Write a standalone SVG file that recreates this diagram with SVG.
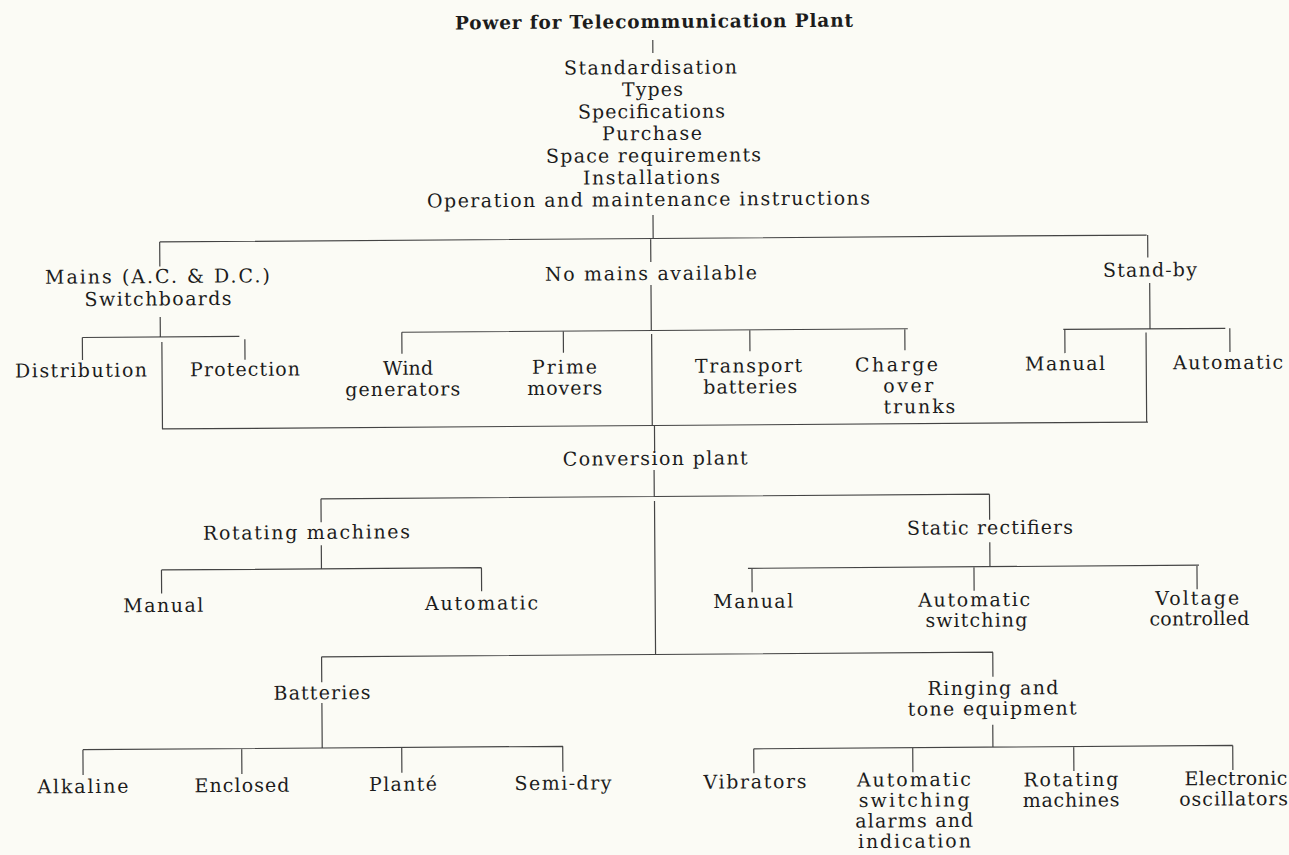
<svg xmlns="http://www.w3.org/2000/svg" width="1289" height="855" viewBox="0 0 1289 855">
<style>
.t{font-family:"DejaVu Serif","Liberation Serif",serif;font-size:19px;fill:#1c1c1c;text-anchor:middle}
.b{font-weight:bold;font-size:18.5px}
.c path{stroke:#444;stroke-width:1.2;fill:none}
</style>
<rect width="1289" height="855" fill="#fbfbf5"/>
<g transform="rotate(-0.4 654 430)">
<g class="c" id="connectors">
<path d="M655.5,40V53M654.5,215V238.5M161,238.5H1148M161,238.5V263M652,238.5V262M1149,238.5V261"/>
<path d="M161,313.5V333.5M83,333.5H240M83,333.5V356M245.5,336.5V357M162.5,338.5V425.5"/>
<path d="M652,285V330.5M402.5,330.5H908.5M402.5,330.5V352M564,330.5V352M750.5,330.5V352M905.5,330.5V352M652.3,334V425.5"/>
<path d="M1150.7,286.5V332.3M1064,332.3H1226M1065.5,332.3V356M1230.5,332.3V356M1146.7,336V425.5"/>
<path d="M162,425.5H1148"/>
<path d="M654.5,425.5V452M653.8,470V496.5M320.5,496.5H989M320.5,496.5V520M989,496.5V522M654,501V654.5"/>
<path d="M320.5,543V566.5M160.5,566.5H480.5M160.5,566.5V590M480.5,566.5V590"/>
<path d="M989,544.5V569M747,569H1198M751,569V593M973,569V593M1196,569V593"/>
<path d="M320,654.5H991.5M320,654.5V680M991.2,654.5V679M320,700.7V745.7M80.7,745.7H560.7M80.7,745.7V771M239.5,745.7V771M399.5,745.7V771M560.5,745.7V771"/>
<path d="M990.7,727V749.5M751.5,749.5H1230.5M751.5,749.5V774M910.5,749.5V774M1071.5,749.5V774M1230.5,749.5V774"/>
</g>
<g id="root">
<text class="t b" x="656.8" y="28" textLength="398" lengthAdjust="spacing">Power for Telecommunication Plant</text>
</g>
<g id="aspects">
<text class="t" x="653" y="74" textLength="173" lengthAdjust="spacing">Standardisation</text>
<text class="t" x="654.8" y="96" textLength="61" lengthAdjust="spacing">Types</text>
<text class="t" x="653.7" y="118" textLength="147" lengthAdjust="spacing">Specifications</text>
<text class="t" x="654" y="140" textLength="100" lengthAdjust="spacing">Purchase</text>
<text class="t" x="655.4" y="162" textLength="215" lengthAdjust="spacing">Space requirements</text>
<text class="t" x="653.2" y="184" textLength="137" lengthAdjust="spacing">Installations</text>
<text class="t" x="650.1" y="206" textLength="443" lengthAdjust="spacing">Operation and maintenance instructions</text>
</g>
<g id="mains">
<text class="t" x="158.5" y="279.5" textLength="225" lengthAdjust="spacing">Mains (A.C. &amp; D.C.)</text>
<text class="t" x="159" y="302" textLength="147" lengthAdjust="spacing">Switchboards</text>
</g>
<g id="distribution"><text class="t" x="81.5" y="373" textLength="132" lengthAdjust="spacing">Distribution</text></g>
<g id="protection"><text class="t" x="245.5" y="373" textLength="110" lengthAdjust="spacing">Protection</text></g>
<g id="no-mains"><text class="t" x="652" y="280" textLength="212" lengthAdjust="spacing">No mains available</text></g>
<g id="wind">
<text class="t" x="408.5" y="373" textLength="50" lengthAdjust="spacing">Wind</text>
<text class="t" x="403" y="394" textLength="115" lengthAdjust="spacing">generators</text>
</g>
<g id="prime">
<text class="t" x="565" y="373" textLength="65" lengthAdjust="spacing">Prime</text>
<text class="t" x="565" y="394" textLength="75" lengthAdjust="spacing">movers</text>
</g>
<g id="transport">
<text class="t" x="749" y="373" textLength="107" lengthAdjust="spacing">Transport</text>
<text class="t" x="750.5" y="394" textLength="94" lengthAdjust="spacing">batteries</text>
</g>
<g id="charge">
<text class="t" x="897" y="373" textLength="83" lengthAdjust="spacing">Charge</text>
<text class="t" x="908.5" y="394" textLength="50" lengthAdjust="spacing">over</text>
<text class="t" x="919.5" y="415" textLength="72" lengthAdjust="spacing">trunks</text>
</g>
<g id="standby"><text class="t" x="1151" y="280" textLength="94" lengthAdjust="spacing">Stand-by</text></g>
<g id="standby-manual"><text class="t" x="1065.5" y="373" textLength="80" lengthAdjust="spacing">Manual</text></g>
<g id="standby-automatic"><text class="t" x="1228.5" y="373" textLength="110" lengthAdjust="spacing">Automatic</text></g>
<g id="conversion"><text class="t" x="655" y="465" textLength="185" lengthAdjust="spacing">Conversion plant</text></g>
<g id="rotating"><text class="t" x="305.7" y="536.5" textLength="207" lengthAdjust="spacing">Rotating machines</text></g>
<g id="rot-manual"><text class="t" x="162" y="608.5" textLength="80" lengthAdjust="spacing">Manual</text></g>
<g id="rot-automatic"><text class="t" x="480.3" y="608.5" textLength="113" lengthAdjust="spacing">Automatic</text></g>
<g id="static"><text class="t" x="989.3" y="536.5" textLength="166" lengthAdjust="spacing">Static rectifiers</text></g>
<g id="static-manual"><text class="t" x="752" y="608.5" textLength="80" lengthAdjust="spacing">Manual</text></g>
<g id="static-auto">
<text class="t" x="973" y="608.5" textLength="112" lengthAdjust="spacing">Automatic</text>
<text class="t" x="975" y="629" textLength="102" lengthAdjust="spacing">switching</text>
</g>
<g id="static-voltage">
<text class="t" x="1196" y="608.5" textLength="84" lengthAdjust="spacing">Voltage</text>
<text class="t" x="1198" y="629" textLength="100" lengthAdjust="spacing">controlled</text>
</g>
<g id="batteries"><text class="t" x="320.2" y="697" textLength="97" lengthAdjust="spacing">Batteries</text></g>
<g id="alkaline"><text class="t" x="80.5" y="789" textLength="91" lengthAdjust="spacing">Alkaline</text></g>
<g id="enclosed"><text class="t" x="239.5" y="789" textLength="95" lengthAdjust="spacing">Enclosed</text></g>
<g id="plante"><text class="t" x="400.5" y="789" textLength="68" lengthAdjust="spacing">Planté</text></g>
<g id="semidry"><text class="t" x="560.5" y="789" textLength="97" lengthAdjust="spacing">Semi-dry</text></g>
<g id="ringing">
<text class="t" x="991.2" y="697" textLength="131" lengthAdjust="spacing">Ringing and</text>
<text class="t" x="990.2" y="717.5" textLength="169" lengthAdjust="spacing">tone equipment</text>
</g>
<g id="vibrators"><text class="t" x="752.5" y="789" textLength="103" lengthAdjust="spacing">Vibrators</text></g>
<g id="alarms">
<text class="t" x="911.5" y="788" textLength="114" lengthAdjust="spacing">Automatic</text>
<text class="t" x="911.5" y="808.5" textLength="111" lengthAdjust="spacing">switching</text>
<text class="t" x="911.5" y="829" textLength="118" lengthAdjust="spacing">alarms and</text>
<text class="t" x="911.5" y="849.5" textLength="113" lengthAdjust="spacing">indication</text>
</g>
<g id="ring-rotating">
<text class="t" x="1068.5" y="789" textLength="95" lengthAdjust="spacing">Rotating</text>
<text class="t" x="1068.5" y="809.5" textLength="97" lengthAdjust="spacing">machines</text>
</g>
<g id="electronic">
<text class="t" x="1233.5" y="789" textLength="103" lengthAdjust="spacing">Electronic</text>
<text class="t" x="1231" y="809.5" textLength="109" lengthAdjust="spacing">oscillators</text>
</g>
</g>
</svg>
